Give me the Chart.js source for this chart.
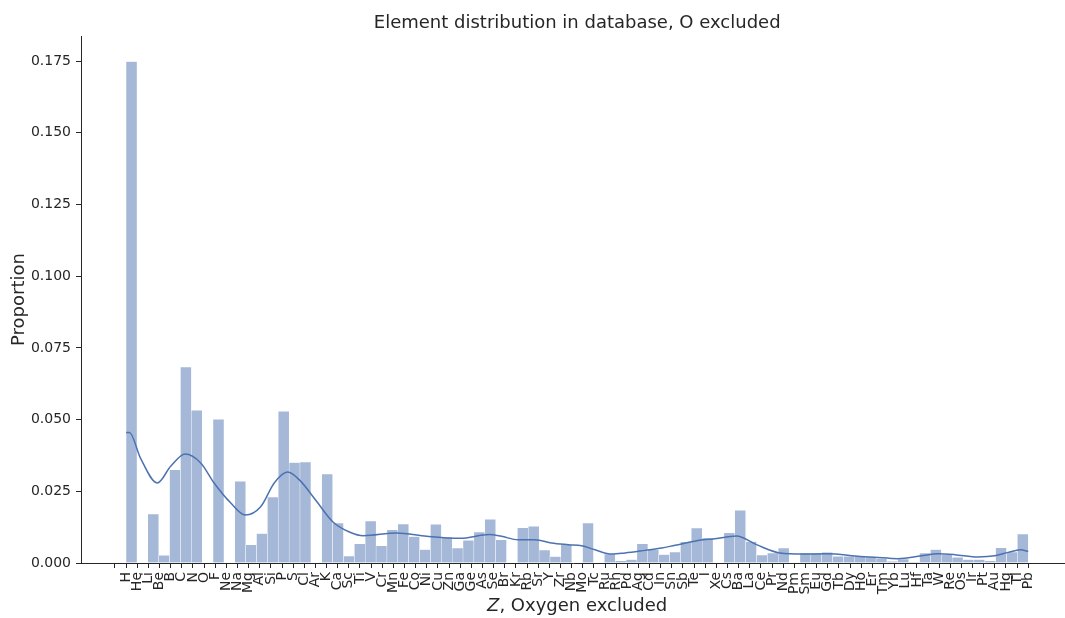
<!DOCTYPE html>
<html>
<head>
<meta charset="utf-8">
<title>Element distribution</title>
<script src="https://cdn.jsdelivr.net/npm/chart.js@4.4.1/dist/chart.umd.min.js"></script>
<style>
  html, body { margin: 0; padding: 0; background: #fff; overflow: hidden; }
  #chart1 { display: block; }
</style>
</head>
<body>
<canvas id="chart1" width="1065" height="618"></canvas>
<script>
// CHART DATA
// -----------------------------
// element symbols, ticks at Z = 1..82
let symbols = [
  'H', 'He', 'Li', 'Be', 'B', 'C', 'N', 'O', 'F', 'Ne',
  'Na', 'Mg', 'Al', 'Si', 'P', 'S', 'Cl', 'Ar', 'K', 'Ca',
  'Sc', 'Ti', 'V', 'Cr', 'Mn', 'Fe', 'Co', 'Ni', 'Cu', 'Zn',
  'Ga', 'Ge', 'As', 'Se', 'Br', 'Kr', 'Rb', 'Sr', 'Y', 'Zr',
  'Nb', 'Mo', 'Tc', 'Ru', 'Rh', 'Pd', 'Ag', 'Cd', 'In', 'Sn',
  'Sb', 'Te', 'I', 'Xe', 'Cs', 'Ba', 'La', 'Ce', 'Pr', 'Nd',
  'Pm', 'Sm', 'Eu', 'Gd', 'Tb', 'Dy', 'Ho', 'Er', 'Tm', 'Yb',
  'Lu', 'Hf', 'Ta', 'W', 'Re', 'Os', 'Ir', 'Pt', 'Au', 'Hg',
  'Tl', 'Pb',
];

// histogram: 83 equal bins between Z = 1 and Z = 82
let zRange = [1, 82];
let binCount = 83;
let proportions = [
  0.1748, 0, 0.0171, 0.0027, 0.0325, 0.0683, 0.0532, 0, 0.0501, 0,
  0.0285, 0.0063, 0.0103, 0.0230, 0.0529, 0.0350, 0.0352, 0, 0.0310, 0.0139,
  0.0024, 0.0067, 0.0146, 0.0060, 0.0116, 0.0136, 0.0092, 0.0047, 0.0135, 0.0090,
  0.0052, 0.0079, 0.0108, 0.0152, 0.0081, 0, 0.0123, 0.0128, 0.0045, 0.0022,
  0.0065, 0, 0.0139, 0, 0.0031, 0.0008, 0.0012, 0.0067, 0.0046, 0.0029,
  0.0038, 0.0074, 0.0122, 0.0087, 0, 0.0105, 0.0184, 0.0075, 0.0028, 0.0035,
  0.0052, 0, 0.0035, 0.0035, 0.0037, 0.0023, 0.0023, 0.0024, 0.0021, 0.0015,
  0.0006, 0.0014, 0.0003, 0.0035, 0.0047, 0.0029, 0.0020, 0.0012, 0.0012, 0.0008,
  0.0053, 0.0038, 0.0101,
];

// kde curve
let kdeZ = [
  1.0, 1.3, 2.3, 3.8, 5.0, 6.3, 7.7, 8.9, 10.4, 11.7,
  13.1, 14.3, 15.5, 16.6, 18.1, 19.6, 21.1, 22.3, 25.3, 28.0,
  31.0, 33.6, 34.7, 36.2, 37.7, 39.2, 40.7, 41.9, 43.1, 44.6,
  45.8, 47.6, 49.1, 50.3, 52.8, 53.7, 55.8, 57.6, 59.7, 61.8,
  63.9, 66.9, 68.2, 70.3, 72.4, 73.9, 75.4, 77.5, 79.0, 80.2,
  81.3, 82.0,
];
let kdeY = [
  0.0455, 0.0455, 0.0365, 0.0279, 0.0337, 0.0380, 0.0349, 0.0279, 0.0209, 0.0167,
  0.0197, 0.0279, 0.0317, 0.0288, 0.0215, 0.0142, 0.0107, 0.0095, 0.0105, 0.0093,
  0.0086, 0.0099, 0.0093, 0.0081, 0.0081, 0.0070, 0.0064, 0.0060, 0.0046, 0.0031,
  0.0035, 0.0044, 0.0052, 0.0062, 0.0081, 0.0084, 0.0094, 0.0064, 0.0035, 0.0031,
  0.0032, 0.0023, 0.0020, 0.0015, 0.0025, 0.0032, 0.0029, 0.0021, 0.0025, 0.0037,
  0.0046, 0.0040,
];

let yTicks = [0, 0.025, 0.05, 0.075, 0.1, 0.125, 0.15, 0.175];

// CHART CONFIG
// -----------------------------
let textColor = '#262626';
let fontFamily = "'DejaVu Sans', sans-serif";
let labelSize = 18;

let binWidth = (zRange[1] - zRange[0]) / binCount;
let barPoints = proportions.map((v, i) => ({ x: zRange[0] + (i + 0.5) * binWidth, y: v }));
let kdePoints = kdeZ.map((z, i) => ({ x: z, y: kdeY[i] }));

// title and x label (italic Z) drawn centred on the data range
let textPlugin = {
  id: 'texts',
  afterDraw(chart) {
    let ctx = chart.ctx;
    let cx = chart.scales.x.getPixelForValue((zRange[0] + zRange[1]) / 2);
    let plain = labelSize + 'px ' + fontFamily;
    let italic = 'italic ' + labelSize + 'px ' + fontFamily;
    ctx.save();
    ctx.fillStyle = textColor;
    ctx.textBaseline = 'middle';

    ctx.font = plain;
    ctx.textAlign = 'center';
    ctx.fillText('Element distribution in database, O excluded', cx, 23);

    let rest = ', Oxygen excluded';
    ctx.font = italic;
    let wZ = ctx.measureText('Z').width;
    ctx.font = plain;
    let wRest = ctx.measureText(rest).width;
    let x0 = cx - (wZ + wRest) / 2;
    ctx.textAlign = 'left';
    ctx.font = italic;
    ctx.fillText('Z', x0, 606);
    ctx.font = plain;
    ctx.fillText(rest, x0 + wZ, 606);
    ctx.restore();
  },
};

let chart1Data = {
  type: 'bar',
  data: {
    datasets: [
      {
        type: 'line',
        data: kdePoints,
        borderColor: '#4c72b0',
        borderWidth: 1.5,
        pointRadius: 0,
        cubicInterpolationMode: 'monotone',
        fill: false,
        order: 0,
      },
      {
        data: barPoints,
        backgroundColor: 'rgba(76, 114, 176, 0.5)',
        borderColor: '#ffffff',
        borderWidth: { left: 0.5, right: 0.5, top: 0.5, bottom: 0 },
        categoryPercentage: 1,
        barPercentage: 1,
        order: 1,
      },
    ],
  },
  options: {
    responsive: false,
    animation: false,
    devicePixelRatio: 1,
    layout: {
      padding: { top: 36, left: 0, right: 0, bottom: 0 },
    },
    plugins: {
      legend: { display: false },
      tooltip: { enabled: false },
      title: { display: false },
    },
    scales: {
      x: {
        type: 'linear',
        offset: false,
        min: -3.05,
        max: 85.3,
        afterFit: (scale) => { scale.height = 55; },
        afterBuildTicks: (scale) => {
          scale.ticks = [{ value: 0 }].concat(symbols.map((s, i) => ({ value: i + 1 })));
        },
        ticks: {
          autoSkip: false,
          minRotation: 90,
          maxRotation: 90,
          padding: 4,
          color: textColor,
          font: { family: fontFamily, size: 14 },
          callback: (v) => (v >= 1 && v <= symbols.length ? symbols[v - 1] : ''),
        },
        grid: {
          offset: false,
          drawOnChartArea: false,
          drawTicks: true,
          tickLength: 5,
          tickColor: textColor,
          tickWidth: 1,
        },
        border: { display: true, color: textColor, width: 1 },
      },
      y: {
        min: 0,
        max: 0.18375,
        afterFit: (scale) => { scale.width = 81; },
        afterBuildTicks: (scale) => {
          scale.ticks = yTicks.map((v) => ({ value: v }));
        },
        ticks: {
          padding: 5,
          color: textColor,
          font: { family: fontFamily, size: 14 },
          callback: (v) => Number(v).toFixed(3),
        },
        grid: {
          drawOnChartArea: false,
          drawTicks: true,
          tickLength: 5,
          tickColor: textColor,
          tickWidth: 1,
        },
        border: { display: true, color: textColor, width: 1 },
        title: {
          display: true,
          text: 'Proportion',
          color: textColor,
          font: { family: fontFamily, size: labelSize },
          padding: { top: 9, bottom: 0 },
        },
      },
    },
  },
  plugins: [textPlugin],
};

// RENDER CHART
// -----------------------------
new Chart(document.getElementById('chart1'), chart1Data);
</script>
</body>
</html>
